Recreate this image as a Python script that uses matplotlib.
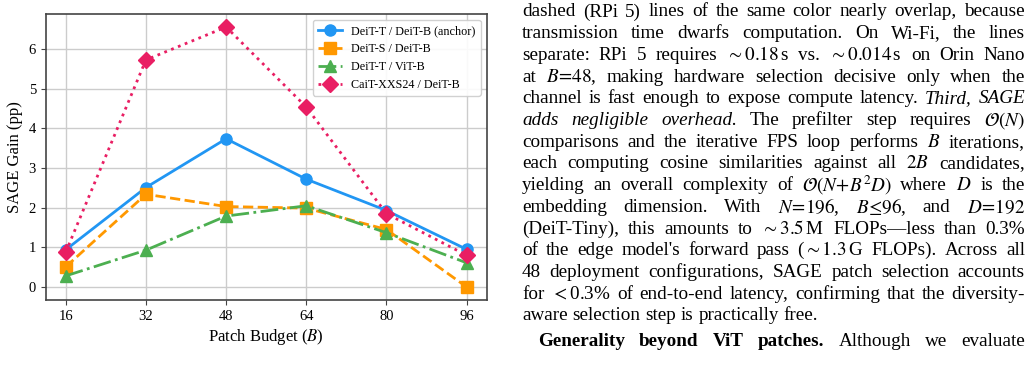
import matplotlib
matplotlib.use("Agg")
import matplotlib.pyplot as plt

plt.rcParams["font.family"] = ["Liberation Serif", "DejaVu Serif"]
plt.rcParams["mathtext.fontset"] = "stix"

budgets = [16, 32, 48, 64, 80, 96]
deit_t_deit_b = [0.94, 2.51, 3.74, 2.72, 1.93, 0.95]
deit_s_deit_b = [0.51, 2.34, 2.03, 1.99, 1.45, 0.0]
deit_t_vit_b = [0.28, 0.93, 1.79, 2.05, 1.37, 0.61]
cait_deit_b = [0.88, 5.73, 6.56, 4.54, 1.85, 0.80]

labels = ["DeiT-T / DeiT-B (anchor)", "DeiT-S / DeiT-B",
          "DeiT-T / ViT-B", "CaiT-XXS24 / DeiT-B"]

# paragraph text on the right, one entry per typeset line
text_lines = [
    r"dashed (RPi 5) lines of the same color nearly overlap, because",
    r"transmission time dwarfs computation. On Wi-Fi, the lines",
    r"separate: RPi 5 requires ${\sim}0.18\,$s vs. ${\sim}0.014\,$s on Orin Nano",
    r"at $B\!=\!48$, making hardware selection decisive only when the",
    r"channel is fast enough to expose compute latency. *Third, *SAGE",
    r"*adds *negligible *overhead. The prefilter step requires $\mathcal{O}(N)$",
    r"comparisons and the iterative FPS loop performs $B$ iterations,",
    r"each computing cosine similarities against all $2B$ candidates,",
    r"yielding an overall complexity of $\mathcal{O}(N\!+\!B^2D)$ where $D$ is the",
    r"embedding dimension. With $N\!=\!196$, $B\!\leq\!96$, and $D\!=\!192$",
    r"(DeiT-Tiny), this amounts to ${\sim}3.5\,$M FLOPs—less than 0.3%",
    r"of the edge model's forward pass (${\sim}1.3\,$G FLOPs). Across all",
    r"48 deployment configurations, SAGE patch selection accounts",
    r"for ${<}$0.3% of end-to-end latency, confirming that the diversity-",
    r"aware selection step is practically free.",
    r"**Generality **beyond **ViT **patches. Although we evaluate",
]
justify = [True] * 14 + [False, True]
indent = [0] * 15 + [16]
extra_skip = [0] * 15 + [4]

fig = plt.figure(figsize=(10.30, 3.83), dpi=100)
ax = fig.add_axes([45.7 / 1030, 83 / 383, 441 / 1030, 286 / 383])

ax.plot(budgets, deit_t_deit_b, "-o", color="#2196F3", lw=2, ms=8, label=labels[0])
ax.plot(budgets, deit_s_deit_b, "--s", color="#FF9800", lw=2, ms=8, label=labels[1])
ax.plot(budgets, deit_t_vit_b, "-.^", color="#4CAF50", lw=2, ms=8, label=labels[2])
ax.plot(budgets, cait_deit_b, ":D", color="#E91E63", lw=2, ms=8, label=labels[3])

ax.set_xticks(budgets)
ax.set_xlabel(r"Patch Budget ($B$)", fontsize=12, labelpad=3)
ax.set_ylabel("SAGE Gain (pp)", fontsize=12)
ax.tick_params(labelsize=10.5, color="#444444")
ax.grid(True, color="#cccccc", lw=1)
ax.set_axisbelow(True)
for s in ax.spines.values():
    s.set_color("#444444")
    s.set_linewidth(1.2)
ax.legend(loc="upper right", fontsize=8.7, framealpha=0.9)

# justified paragraph
fs = 13.8
renderer = fig.canvas.get_renderer()
x_left, x_right = 522, 1025
y0, dy = 12, 21.7
for i, line in enumerate(text_lines):
    words = line.split(" ")
    y = 383 - (y0 + i * dy + extra_skip[i])
    arts = []
    for w in words:
        style, weight = "normal", "normal"
        if w.startswith("**"):
            w, weight = w[2:], "bold"
        elif w.startswith("*"):
            w, style = w[1:], "italic"
        t = fig.text(0, y / 383, w, fontsize=fs, fontstyle=style,
                     fontweight=weight, va="center", ha="left")
        arts.append(t)
    widths = [t.get_window_extent(renderer).width for t in arts]
    start = x_left + indent[i]
    if justify[i] and len(arts) > 1:
        gap = (x_right - start - sum(widths)) / (len(arts) - 1)
    else:
        gap = 0.25 * fs * 100 / 72
    x = start
    for t, w in zip(arts, widths):
        t.set_x(x / 1030)
        x += w + gap

fig.savefig("out.png", dpi=100)
